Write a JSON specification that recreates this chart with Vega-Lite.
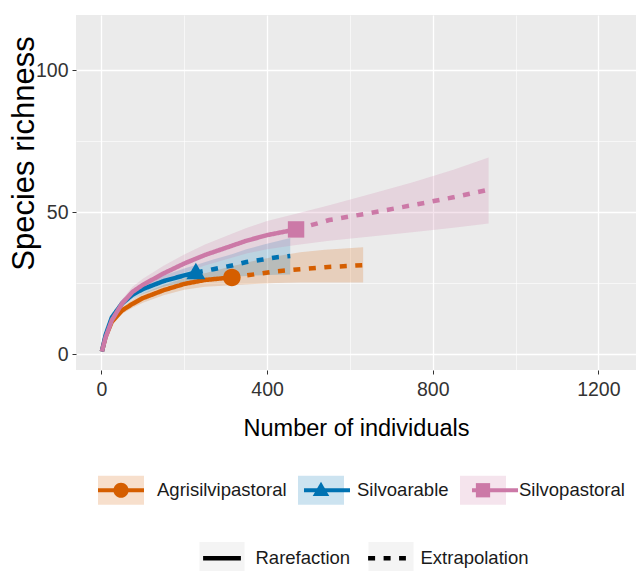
{
  "$schema": "https://vega.github.io/schema/vega-lite/v6.json",
  "width": 560,
  "height": 355,
  "autosize": "none",
  "padding": {"left": 76, "top": 15, "right": 0, "bottom": 201},
  "background": "white",
  "config": {"view": {"fill": "#EBEBEB", "stroke": null}, "font": "Liberation Sans"},
  "datasets": {
    "curves": [
      {"Assemblage": "Agrisilvipastoral", "Method": "Rarefaction", "m": 1, "qD": 1, "lo": 1, "hi": 1},
      {"Assemblage": "Agrisilvipastoral", "Method": "Rarefaction", "m": 10, "qD": 6.2, "lo": 5.6, "hi": 6.8},
      {"Assemblage": "Agrisilvipastoral", "Method": "Rarefaction", "m": 25, "qD": 11.5, "lo": 10.6, "hi": 12.4},
      {"Assemblage": "Agrisilvipastoral", "Method": "Rarefaction", "m": 50, "qD": 15.5, "lo": 14.3, "hi": 16.7},
      {"Assemblage": "Agrisilvipastoral", "Method": "Rarefaction", "m": 75, "qD": 17.8, "lo": 16.4, "hi": 19.2},
      {"Assemblage": "Agrisilvipastoral", "Method": "Rarefaction", "m": 100, "qD": 19.8, "lo": 18.2, "hi": 21.4},
      {"Assemblage": "Agrisilvipastoral", "Method": "Rarefaction", "m": 150, "qD": 22.6, "lo": 20.8, "hi": 24.4},
      {"Assemblage": "Agrisilvipastoral", "Method": "Rarefaction", "m": 200, "qD": 24.8, "lo": 22.8, "hi": 26.8},
      {"Assemblage": "Agrisilvipastoral", "Method": "Rarefaction", "m": 250, "qD": 26.2, "lo": 23.8, "hi": 28.6},
      {"Assemblage": "Agrisilvipastoral", "Method": "Rarefaction", "m": 315, "qD": 27.1, "lo": 24.3, "hi": 31},
      {"Assemblage": "Agrisilvipastoral", "Method": "Extrapolation", "m": 315, "qD": 27.1, "lo": 24.3, "hi": 31},
      {"Assemblage": "Agrisilvipastoral", "Method": "Extrapolation", "m": 370, "qD": 28.2, "lo": 24.8, "hi": 33},
      {"Assemblage": "Agrisilvipastoral", "Method": "Extrapolation", "m": 420, "qD": 29.2, "lo": 25.1, "hi": 34.5},
      {"Assemblage": "Agrisilvipastoral", "Method": "Extrapolation", "m": 480, "qD": 30, "lo": 25.3, "hi": 36},
      {"Assemblage": "Agrisilvipastoral", "Method": "Extrapolation", "m": 540, "qD": 30.7, "lo": 25.3, "hi": 36.8},
      {"Assemblage": "Agrisilvipastoral", "Method": "Extrapolation", "m": 632, "qD": 31.4, "lo": 25.3, "hi": 37.7},
      {"Assemblage": "Silvoarable", "Method": "Rarefaction", "m": 1, "qD": 1, "lo": 1, "hi": 1},
      {"Assemblage": "Silvoarable", "Method": "Rarefaction", "m": 10, "qD": 6.8, "lo": 6.2, "hi": 7.4},
      {"Assemblage": "Silvoarable", "Method": "Rarefaction", "m": 25, "qD": 13, "lo": 12, "hi": 14},
      {"Assemblage": "Silvoarable", "Method": "Rarefaction", "m": 50, "qD": 18, "lo": 16.8, "hi": 19.2},
      {"Assemblage": "Silvoarable", "Method": "Rarefaction", "m": 75, "qD": 21, "lo": 19.5, "hi": 22.5},
      {"Assemblage": "Silvoarable", "Method": "Rarefaction", "m": 100, "qD": 23, "lo": 21.3, "hi": 24.7},
      {"Assemblage": "Silvoarable", "Method": "Rarefaction", "m": 150, "qD": 25.8, "lo": 23.8, "hi": 27.8},
      {"Assemblage": "Silvoarable", "Method": "Rarefaction", "m": 200, "qD": 27.8, "lo": 25.4, "hi": 30.2},
      {"Assemblage": "Silvoarable", "Method": "Rarefaction", "m": 228, "qD": 28.8, "lo": 26.1, "hi": 31.5},
      {"Assemblage": "Silvoarable", "Method": "Extrapolation", "m": 228, "qD": 28.8, "lo": 26.1, "hi": 31.5},
      {"Assemblage": "Silvoarable", "Method": "Extrapolation", "m": 270, "qD": 30, "lo": 26.8, "hi": 33.4},
      {"Assemblage": "Silvoarable", "Method": "Extrapolation", "m": 315, "qD": 31.3, "lo": 27.3, "hi": 35.3},
      {"Assemblage": "Silvoarable", "Method": "Extrapolation", "m": 350, "qD": 32.5, "lo": 27.6, "hi": 37},
      {"Assemblage": "Silvoarable", "Method": "Extrapolation", "m": 390, "qD": 33.4, "lo": 27.9, "hi": 38.6},
      {"Assemblage": "Silvoarable", "Method": "Extrapolation", "m": 424, "qD": 34.2, "lo": 28, "hi": 39.8},
      {"Assemblage": "Silvoarable", "Method": "Extrapolation", "m": 456, "qD": 34.6, "lo": 28.1, "hi": 41},
      {"Assemblage": "Silvopastoral", "Method": "Rarefaction", "m": 1, "qD": 1, "lo": 1, "hi": 1},
      {"Assemblage": "Silvopastoral", "Method": "Rarefaction", "m": 10, "qD": 6, "lo": 5.4, "hi": 6.6},
      {"Assemblage": "Silvopastoral", "Method": "Rarefaction", "m": 25, "qD": 12, "lo": 11, "hi": 13},
      {"Assemblage": "Silvopastoral", "Method": "Rarefaction", "m": 50, "qD": 18, "lo": 16.6, "hi": 19.4},
      {"Assemblage": "Silvopastoral", "Method": "Rarefaction", "m": 75, "qD": 22, "lo": 20.2, "hi": 23.8},
      {"Assemblage": "Silvopastoral", "Method": "Rarefaction", "m": 100, "qD": 24.5, "lo": 22.4, "hi": 26.6},
      {"Assemblage": "Silvopastoral", "Method": "Rarefaction", "m": 150, "qD": 28.5, "lo": 25.8, "hi": 31.2},
      {"Assemblage": "Silvopastoral", "Method": "Rarefaction", "m": 200, "qD": 32, "lo": 28.8, "hi": 35.2},
      {"Assemblage": "Silvopastoral", "Method": "Rarefaction", "m": 250, "qD": 35, "lo": 31.3, "hi": 38.7},
      {"Assemblage": "Silvopastoral", "Method": "Rarefaction", "m": 300, "qD": 37.5, "lo": 33.4, "hi": 41.6},
      {"Assemblage": "Silvopastoral", "Method": "Rarefaction", "m": 350, "qD": 40, "lo": 35.5, "hi": 44.5},
      {"Assemblage": "Silvopastoral", "Method": "Rarefaction", "m": 400, "qD": 42, "lo": 37, "hi": 47},
      {"Assemblage": "Silvopastoral", "Method": "Rarefaction", "m": 470, "qD": 44, "lo": 38.5, "hi": 49.5},
      {"Assemblage": "Silvopastoral", "Method": "Extrapolation", "m": 470, "qD": 44, "lo": 38.5, "hi": 49.5},
      {"Assemblage": "Silvopastoral", "Method": "Extrapolation", "m": 550, "qD": 47.3, "lo": 40, "hi": 52.5},
      {"Assemblage": "Silvopastoral", "Method": "Extrapolation", "m": 650, "qD": 49.8, "lo": 41.5, "hi": 56.5},
      {"Assemblage": "Silvopastoral", "Method": "Extrapolation", "m": 750, "qD": 52.5, "lo": 43, "hi": 60.5},
      {"Assemblage": "Silvopastoral", "Method": "Extrapolation", "m": 850, "qD": 55.3, "lo": 44.6, "hi": 65},
      {"Assemblage": "Silvopastoral", "Method": "Extrapolation", "m": 935, "qD": 58, "lo": 46.1, "hi": 69.3}
    ],
    "obs": [
      {"Assemblage": "Agrisilvipastoral", "m": 315, "qD": 27.1},
      {"Assemblage": "Silvoarable", "m": 228, "qD": 28.8},
      {"Assemblage": "Silvopastoral", "m": 470, "qD": 44}
    ]
  },
  "layer": [
    {
      "data": {"name": "curves"},
      "mark": {"type": "area", "opacity": 0.2},
      "encoding": {
        "x": {
          "field": "m", "type": "quantitative",
          "scale": {"domain": [-61.5, 1291], "nice": false, "zero": false},
          "axis": {
            "title": "Number of individuals",
            "values": [0, 200, 400, 600, 800, 1000, 1200],
            "format": "d",
            "labelExpr": "datum.value % 400 === 0 ? datum.label : ''",
            "labelOverlap": false, "labelFlush": false,
            "domain": false,
            "grid": true, "gridColor": "white",
            "gridWidth": {"condition": {"test": "datum.value % 400 === 0", "value": 1.3}, "value": 0.6},
            "ticks": true, "tickColor": "#333333", "tickSize": 4, "tickWidth": 1,
            "tickOpacity": {"condition": {"test": "datum.value % 400 === 0", "value": 1}, "value": 0},
            "labelFont": "Liberation Sans", "labelFontSize": 19.5, "labelColor": "#333333", "labelPadding": 6,
            "titleFont": "Liberation Sans", "titleFontSize": 23.5, "titleColor": "black", "titleFontWeight": "normal",
            "titleBaseline": "alphabetic", "titleY": 65
          }
        },
        "y": {
          "field": "lo", "type": "quantitative",
          "scale": {"domain": [-5.5, 119.5], "nice": false, "zero": false},
          "axis": {
            "title": "Species richness",
            "values": [0, 25, 50, 75, 100],
            "format": "d",
            "labelExpr": "datum.value % 50 === 0 ? datum.label : ''",
            "labelOverlap": false, "labelFlush": false,
            "domain": false,
            "grid": true, "gridColor": "white",
            "gridWidth": {"condition": {"test": "datum.value % 50 === 0", "value": 1.3}, "value": 0.6},
            "ticks": true, "tickColor": "#333333", "tickSize": 4, "tickWidth": 1,
            "tickOpacity": {"condition": {"test": "datum.value % 50 === 0", "value": 1}, "value": 0},
            "labelFont": "Liberation Sans", "labelFontSize": 19.5, "labelColor": "#333333", "labelPadding": 4,
            "titleFont": "Liberation Sans", "titleFontSize": 31, "titleColor": "black", "titleFontWeight": "normal",
            "titleAngle": 270, "titleBaseline": "alphabetic", "titleAlign": "center", "titleX": -43, "titleY": 138
          }
        },
        "y2": {"field": "hi"},
        "opacity": {
          "field": "Method", "type": "ordinal",
          "scale": {"domain": ["Rarefaction", "Extrapolation"], "range": [0.2, 0.2]},
          "legend": {
            "title": null, "orient": "none", "legendX": 121, "legendY": 518, "direction": "horizontal",
            "symbolType": "M-1,-0.71H1V0.71H-1Z", "symbolSize": 2025, "symbolStrokeWidth": 4.5,
            "labelFont": "Liberation Sans", "labelFontSize": 18.5, "labelColor": "#1A1A1A", "labelOpacity": 0,
            "labelOffset": 8.5, "columnPadding": 8, "padding": 0,
            "encoding": {"symbols": {"update": {
              "fill": {"value": "#EFEFEF"}, "fillOpacity": {"value": 1}, "opacity": {"value": 1},
              "stroke": {"value": "transparent"}, "strokeWidth": {"value": 0}
            }}}
          }
        },
        "color": {
          "field": "Assemblage", "type": "nominal",
          "scale": {"domain": ["Agrisilvipastoral", "Silvoarable", "Silvopastoral"], "range": ["#D55E00", "#0072B2", "#CC79A7"]},
          "legend": {
            "title": null, "orient": "none", "legendX": 20, "legendY": 450, "direction": "horizontal",
            "symbolType": "M-1,-0.63H1V0.63H-1Z", "symbolSize": 2116, "symbolStrokeWidth": 4,
            "labelFont": "Liberation Sans", "labelFontSize": 18.5, "labelColor": "#1A1A1A",
            "labelOffset": 11, "columnPadding": 9, "padding": 0,
            "encoding": {"symbols": {"update": {
              "fill": {"signal": "datum.value === 'Agrisilvipastoral' ? '#D55E00' : datum.value === 'Silvoarable' ? '#0072B2' : '#CC79A7'"},
              "stroke": {"signal": "datum.value === 'Agrisilvipastoral' ? '#D55E00' : datum.value === 'Silvoarable' ? '#0072B2' : '#CC79A7'"},
              "fillOpacity": {"value": 0.22}, "strokeOpacity": {"value": 0.6}, "strokeWidth": {"value": 1.3}, "opacity": {"value": 1}
            }}}
          }
        }
      }
    },
    {
      "data": {"name": "curves"},
      "mark": {"type": "line", "strokeWidth": 4.5, "strokeCap": "butt"},
      "encoding": {
        "x": {"field": "m", "type": "quantitative", "scale": {"domain": [-61.5, 1291], "nice": false, "zero": false}},
        "y": {"field": "qD", "type": "quantitative", "scale": {"domain": [-5.5, 119.5], "nice": false, "zero": false}},
        "color": {
          "field": "Assemblage", "type": "nominal",
          "scale": {"domain": ["Agrisilvipastoral", "Silvoarable", "Silvopastoral"], "range": ["#D55E00", "#0072B2", "#CC79A7"]},
          "legend": {
            "title": null, "orient": "none", "legendX": 20, "legendY": 450, "direction": "horizontal",
            "symbolType": "M-1,0H1", "symbolSize": 2116, "symbolStrokeWidth": 4,
            "labelFont": "Liberation Sans", "labelFontSize": 18.5, "labelColor": "#1A1A1A", "labelOpacity": 0,
            "labelOffset": 11, "columnPadding": 9, "padding": 0
          }
        },
        "strokeDash": {
          "field": "Method", "type": "nominal",
          "scale": {"domain": ["Rarefaction", "Extrapolation"], "range": [[1, 0], [7, 8.5]]},
          "legend": {
            "title": null, "orient": "none", "legendX": 121, "legendY": 518, "direction": "horizontal",
            "symbolType": "M-0.84,0H0.84", "symbolSize": 2025, "symbolStrokeWidth": 4.5, "symbolStrokeColor": "black",
            "labelFont": "Liberation Sans", "labelFontSize": 18.5, "labelColor": "#1A1A1A",
            "labelOffset": 8.5, "columnPadding": 8, "padding": 0,
            "encoding": {"symbols": {"update": {"stroke": {"value": "black"}, "strokeWidth": {"value": 4.5}, "opacity": {"value": 1}, "strokeOpacity": {"value": 1}}}}
          }
        }
      }
    },
    {
      "data": {"name": "obs"},
      "mark": {"type": "point", "filled": true, "size": 2800, "opacity": 1},
      "encoding": {
        "x": {"field": "m", "type": "quantitative", "scale": {"domain": [-61.5, 1291], "nice": false, "zero": false}},
        "y": {"field": "qD", "type": "quantitative", "scale": {"domain": [-5.5, 119.5], "nice": false, "zero": false}},
        "color": {
          "field": "Assemblage", "type": "nominal",
          "scale": {"domain": ["Agrisilvipastoral", "Silvoarable", "Silvopastoral"], "range": ["#D55E00", "#0072B2", "#CC79A7"]},
          "legend": {
            "title": null, "orient": "none", "legendX": 20, "legendY": 450, "direction": "horizontal",
            "symbolSize": 2116, "symbolStrokeWidth": 4,
            "labelFont": "Liberation Sans", "labelFontSize": 18.5, "labelColor": "#1A1A1A", "labelOpacity": 0,
            "labelOffset": 11, "columnPadding": 9, "padding": 0
          }
        },
        "shape": {
          "field": "Assemblage", "type": "nominal",
          "scale": {"domain": ["Agrisilvipastoral", "Silvoarable", "Silvopastoral"], "range": ["M-0.33,0A0.33,0.33 0 1,0 0.33,0A0.33,0.33 0 1,0 -0.33,0Z", "M0,-0.37L0.36,0.25L-0.36,0.25Z", "M-0.31,-0.31H0.31V0.31H-0.31Z"]},
          "legend": {
            "title": null, "orient": "none", "legendX": 20, "legendY": 450, "direction": "horizontal",
            "symbolSize": 2116, "symbolStrokeWidth": 4,
            "labelFont": "Liberation Sans", "labelFontSize": 18.5, "labelColor": "#1A1A1A", "labelOpacity": 0,
            "labelOffset": 11, "columnPadding": 9, "padding": 0
          }
        }
      }
    }
  ],
  "resolve": {"scale": {"color": "independent", "shape": "independent", "strokeDash": "independent"}}
}
